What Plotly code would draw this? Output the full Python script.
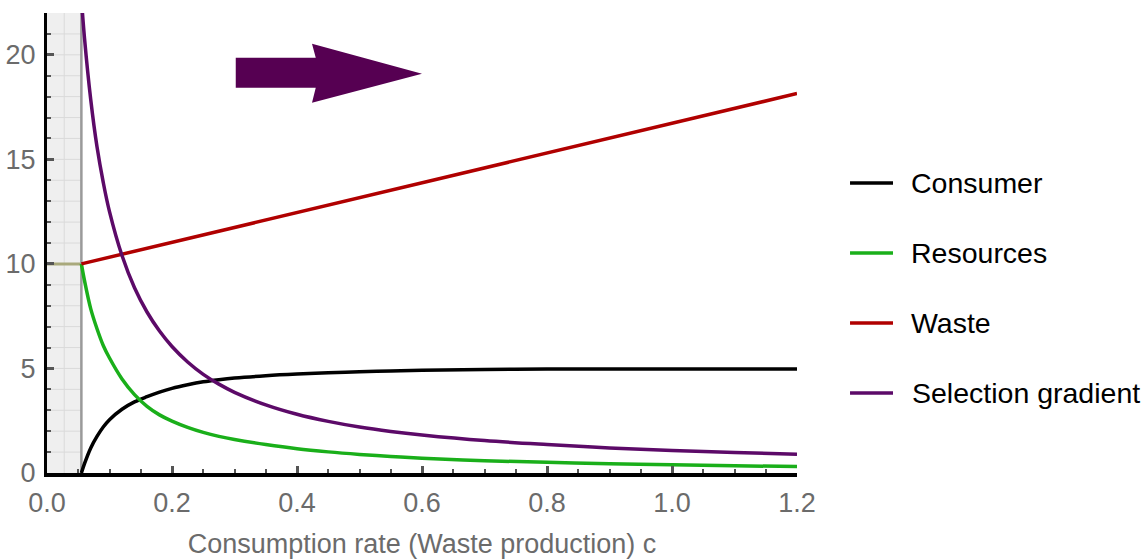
import plotly.graph_objects as go

# Consumption-rate grid shared by the equilibrium curves
c_grid = [0.055, 0.06, 0.07, 0.08, 0.09, 0.10, 0.12, 0.14, 0.16, 0.18, 0.20,
          0.225, 0.25, 0.275, 0.30, 0.35, 0.40, 0.45, 0.50, 0.55, 0.60,
          0.70, 0.80, 0.90, 1.00, 1.10, 1.20]

consumer = [0.0, 0.45, 1.2, 1.75, 2.2, 2.55, 3.05, 3.4, 3.65, 3.87, 4.05,
            4.22, 4.36, 4.46, 4.54, 4.65, 4.73, 4.79, 4.84, 4.88, 4.91,
            4.95, 4.97, 4.97, 4.97, 4.97, 4.97]
resources = [10.0, 9.2, 7.85, 6.9, 6.1, 5.5, 4.5, 3.75, 3.19, 2.78, 2.48,
             2.18, 1.94, 1.75, 1.6, 1.36, 1.16, 1.01, 0.89, 0.79, 0.71,
             0.59, 0.51, 0.44, 0.395, 0.345, 0.31]
selection = [22.7, 20.8, 17.85, 15.6, 13.9, 12.5, 10.4, 8.86, 7.7, 6.79, 6.05,
             5.31, 4.72, 4.25, 3.86, 3.26, 2.81, 2.47, 2.2, 1.99, 1.82,
             1.55, 1.36, 1.2, 1.08, 0.98, 0.895]

# Waste grows linearly with consumption
c_waste = [0.055, 1.20]
waste = [10.0, 18.15]

# Below this consumption rate the consumer cannot persist
c_min = 0.055

x_ticks = [0.0, 0.2, 0.4, 0.6, 0.8, 1.0, 1.2]
x_ticklabels = ["0.0", "0.2", "0.4", "0.6", "0.8", "1.0", "1.2"]
y_ticks = [0, 5, 10, 15, 20]
y_ticklabels = ["0", "5", "10", "15", "20"]

names = ["Consumer", "Resources", "Waste", "Selection gradient"]
colors = ["#000000", "#1aaf1a", "#b00000", "#5c0a68"]

FONT = "Liberation Sans, Arial, Helvetica, sans-serif"
AXIS_GRAY = "#6b6b6b"

fig = go.Figure()

series = [(c_grid, consumer), (c_grid, resources), (c_waste, waste), (c_grid, selection)]
for (xs, ys), name, col in zip(series, names, colors):
    fig.add_trace(go.Scatter(
        x=xs, y=ys, name=name, mode="lines",
        line=dict(color=col, width=3.5, shape="spline", smoothing=1.0),
        showlegend=False, cliponaxis=True,
    ))

# Excluded region shading with its faint mesh
fig.add_shape(type="rect", x0=0, x1=c_min, y0=0, y1=22, xref="x", yref="y",
              fillcolor="#efefef", line=dict(width=0), layer="below")
for k in range(1, 22):
    fig.add_shape(type="line", x0=0, x1=c_min, y0=k, y1=k, xref="x", yref="y",
                  line=dict(color="#dadada", width=1), layer="below")
fig.add_shape(type="line", x0=c_min / 2, x1=c_min / 2, y0=0, y1=22, xref="x", yref="y",
              line=dict(color="#dadada", width=1), layer="below")
fig.add_shape(type="line", x0=0, x1=c_min, y0=waste[0], y1=waste[0], xref="x", yref="y",
              line=dict(color="#a9a97c", width=3), layer="below")
fig.add_shape(type="line", x0=c_min, x1=c_min, y0=0, y1=22, xref="x", yref="y",
              line=dict(color="#9a9a9a", width=2.5), layer="below")

# Direction arrow
fig.add_shape(type="path", xref="x", yref="y",
              path="M 0.302,19.86 L 0.430,19.86 L 0.424,20.53 L 0.600,19.09 "
                   "L 0.424,17.71 L 0.430,18.42 L 0.302,18.42 Z",
              fillcolor="#560052", line=dict(width=0))

# Legend drawn as line samples with labels
legend_y = [0.6304, 0.4783, 0.3261, 0.1739]
for name, col, ly in zip(names, colors, legend_y):
    fig.add_shape(type="line", xref="paper", yref="paper",
                  x0=1.0707, x1=1.128, y0=ly, y1=ly,
                  line=dict(color=col, width=3.5))
    fig.add_annotation(text=name, xref="paper", yref="paper", x=1.150, y=ly,
                       xanchor="left", yanchor="middle", showarrow=False,
                       font=dict(family=FONT, size=28.5, color="#000000"))

fig.update_layout(
    width=1148, height=559, autosize=False,
    margin=dict(l=47, r=351, t=13, b=86),
    paper_bgcolor="white", plot_bgcolor="white",
    font=dict(family=FONT),
    showlegend=False,
)

fig.update_xaxes(
    range=[0, 1.2], showgrid=False, zeroline=False, automargin=False,
    showline=True, linecolor="#000000", linewidth=4,
    tickmode="array", tickvals=x_ticks, ticktext=x_ticklabels,
    ticks="inside", ticklen=7, tickwidth=2.5, tickcolor="#555555",
    minor=dict(ticks="inside", dtick=0.05, ticklen=4, tickwidth=2, tickcolor="#555555", showgrid=False),
    tickfont=dict(family=FONT, size=27, color=AXIS_GRAY),
    ticklabelstandoff=3,
    title=dict(text="Consumption rate (Waste production) c",
               font=dict(family=FONT, size=27, color=AXIS_GRAY), standoff=20),
)
fig.update_yaxes(
    range=[0, 22], showgrid=False, zeroline=False, automargin=False,
    showline=True, linecolor="#000000", linewidth=3,
    tickmode="array", tickvals=y_ticks, ticktext=y_ticklabels,
    ticks="inside", ticklen=7, tickwidth=2.5, tickcolor="#555555",
    minor=dict(ticks="inside", dtick=1, ticklen=4, tickwidth=2, tickcolor="#555555", showgrid=False),
    tickfont=dict(family=FONT, size=27, color=AXIS_GRAY),
    ticklabelstandoff=3,
)

fig.write_html("out.html")
